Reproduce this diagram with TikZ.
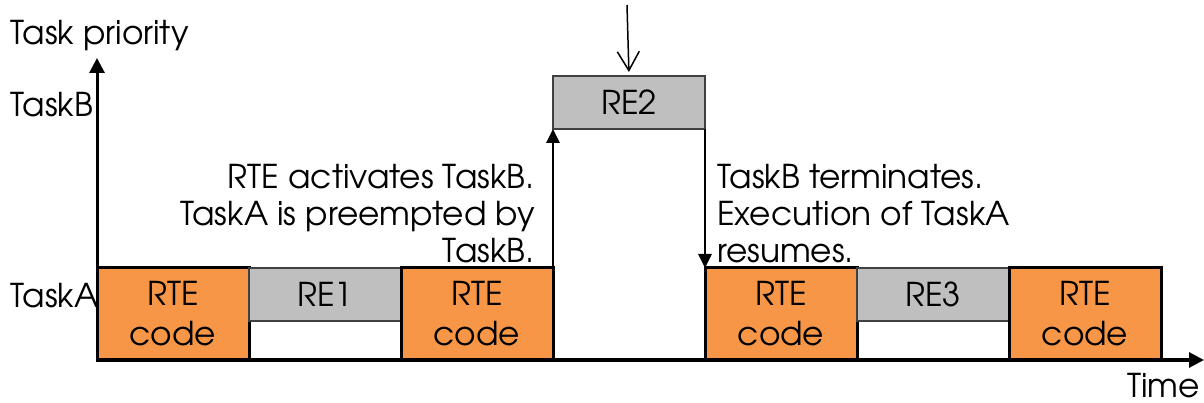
\documentclass[tikz,border=0pt]{standalone}
\usepackage{fontspec}
\setmainfont{TeX Gyre Adventor}
\usetikzlibrary{arrows.meta,positioning}

\definecolor{rteorange}{HTML}{F79646}
\definecolor{regray}{HTML}{BFBFBF}

\tikzset{
  rtebox/.style={draw=black, line width=0.09cm, fill=rteorange, minimum width=4.56cm,
    minimum height=2.76cm, inner sep=0pt, outer sep=0pt, align=center, anchor=south west,
    font=\fontsize{28}{34}\selectfont},
  rebox/.style={draw=black!75, line width=0.06cm, fill=regray, minimum width=4.56cm,
    minimum height=1.59cm, inner sep=0pt, outer sep=0pt, anchor=north west},
  lbl/.style={inner sep=0pt, anchor=base west},
  note/.style={inner sep=0pt, font=\fontsize{28}{32}\selectfont},
  axis/.style={line width=0.09cm, -{Triangle[length=0.45cm,width=0.45cm]}},
  jump/.style={line width=0.06cm, -{Triangle[length=0.42cm,width=0.4cm]}},
}

\begin{document}
\begin{tikzpicture}[x=0.03cm, y=-0.03cm, font=\fontsize{28}{32}\selectfont]
\useasboundingbox (0,0) rectangle (1204,403);

% TaskA row
\node[rtebox] (rte1) at (97,360) {RTE\\code};
\node[rebox] (re1) at (rte1.north east) {RE1};
\node[rtebox, anchor=north west] (rte2) at (re1.north east) {RTE\\code};

% TaskB
\node[rebox] (re2) at (rte2.north east |- 0,76) {RE2};

\node[rtebox, anchor=north west] (rte3) at (re2.south east |- rte2.north) {RTE\\code};
\node[rebox] (re3) at (rte3.north east) {RE3};
\node[rtebox, anchor=north west] (rte4) at (re3.north east) {RTE\\code};

% axes
\coordinate (origin) at (97,360);
\coordinate (ytop) at (97,58);
\coordinate (xend) at (1204,360);
\draw[axis] (origin) -- (ytop);
\draw[axis] (origin) -- (xend);

% switches
\draw[jump] (rte2.north east) -- (re2.south west);
\draw[jump] (re2.south east) -- (rte3.north west);

\coordinate (event) at (627,5);
\draw[line width=0.045cm, -{Straight Barb[length=0.57cm,width=0.66cm]}, shorten >=0.12cm] (event) -- (re2.north);

% labels
\node[lbl] (prio) at (10,45) {Task priority};
\node[lbl] (tb) at (10,117) {TaskB};
\node[lbl] (ta) at (10,308) {TaskA};
\node[inner sep=0pt, anchor=base east] (time) at (1200,397) {Time};

\node[note, anchor=base east, align=right] (act) at (535,263) {RTE activates TaskB.\\TaskA is preempted by\\TaskB.};
\node[note, anchor=base west, align=left] (term) at (717,263) {TaskB terminates.\\Execution of TaskA\\resumes.};
\end{tikzpicture}
\end{document}
